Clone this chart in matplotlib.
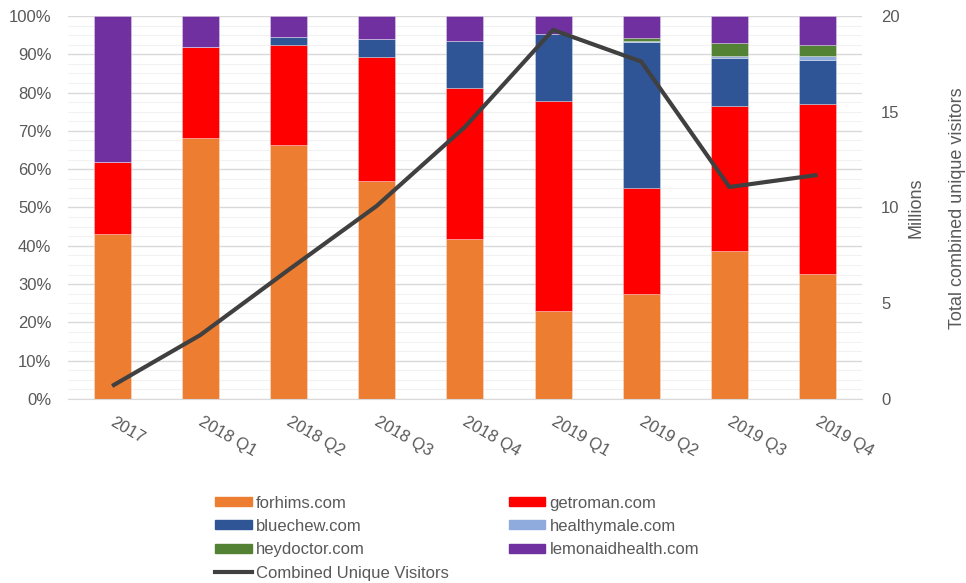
import matplotlib
matplotlib.use("Agg")
import matplotlib.pyplot as plt
import matplotlib.transforms as mtransforms
import numpy as np
from matplotlib.ticker import MultipleLocator, FuncFormatter
from matplotlib.patches import Patch
from matplotlib.lines import Line2D

plt.rcParams['font.family'] = ['Liberation Sans', 'DejaVu Sans']

categories = ["2017", "2018 Q1", "2018 Q2", "2018 Q3", "2018 Q4",
              "2019 Q1", "2019 Q2", "2019 Q3", "2019 Q4"]
forhims = [43.1, 68.1, 66.3, 56.9, 41.8, 23.0, 27.4, 38.6, 32.6]
getroman = [18.8, 23.8, 26.1, 32.4, 39.5, 54.8, 27.7, 38.0, 44.5]
bluechew = [0.0, 0.0, 2.1, 4.7, 12.2, 17.5, 38.1, 12.5, 11.4]
healthymale = [0.0, 0.0, 0.0, 0.0, 0.0, 0.0, 0.2, 0.5, 1.1]
heydoctor = [0.0, 0.0, 0.0, 0.0, 0.0, 0.0, 0.8, 3.4, 2.7]
lemonaid = [38.1, 8.1, 5.5, 6.0, 6.5, 4.7, 5.8, 7.0, 7.7]
visitors = [0.68, 3.34, 6.74, 10.08, 14.2, 19.27, 17.62, 11.07, 11.7]

series = [
    ("forhims.com", forhims, "#ED7D31"),
    ("getroman.com", getroman, "#FF0000"),
    ("bluechew.com", bluechew, "#2F5597"),
    ("healthymale.com", healthymale, "#8FAADC"),
    ("heydoctor.com", heydoctor, "#548235"),
    ("lemonaidhealth.com", lemonaid, "#7030A0"),
]

text_color = "#595959"
fs = 12
fig = plt.figure(figsize=(9.66, 5.83), dpi=100)
ax = fig.add_axes([0.0704, 0.3156, 0.8216, 0.657])
x = np.arange(len(categories))

bottom = np.zeros(len(categories))
for name, vals, col in series:
    v = np.array(vals)
    ax.bar(x, v, bottom=bottom, width=0.42, color=col, edgecolor=(1, 1, 1, 0.35),
           linewidth=0.6, zorder=2)
    bottom += v

ax.set_xlim(-0.5, len(categories) - 0.5)
ax.set_ylim(0, 100)
ax.yaxis.set_major_locator(MultipleLocator(10))
ax.yaxis.set_minor_locator(MultipleLocator(2.5))
ax.yaxis.set_major_formatter(FuncFormatter(lambda v, p: f"{int(round(v))}%"))
ax.grid(axis='y', which='major', color="#D9D9D9", linewidth=1.0, zorder=0)
ax.grid(axis='y', which='minor', color="#F2F2F2", linewidth=0.8, zorder=0)
ax.set_axisbelow(True)
for s in ax.spines.values():
    s.set_visible(False)
ax.spines['bottom'].set_visible(True)
ax.spines['bottom'].set_color("#D9D9D9")
ax.tick_params(axis='both', which='both', length=0, colors=text_color, labelsize=fs)
ax.tick_params(axis='y', pad=12)
ax.set_xticks(x)
ax.set_xticklabels(categories, rotation=-30, ha='left', va='top', rotation_mode='anchor')
ax.tick_params(axis='x', pad=11)
offset = mtransforms.ScaledTranslation(3 / 100, 0, fig.dpi_scale_trans)
for lbl in ax.get_xticklabels():
    lbl.set_color(text_color)
    lbl.set_transform(lbl.get_transform() + offset)

ax2 = ax.twinx()
ax2.plot(x, visitors, color="#404040", linewidth=3.0, zorder=5, solid_capstyle='butt')
ax2.set_ylim(0, 20)
ax2.yaxis.set_major_locator(MultipleLocator(5))
for s in ax2.spines.values():
    s.set_visible(False)
ax2.tick_params(axis='y', length=0, colors=text_color, labelsize=fs, pad=14)
fig.text(957 / 966, 1 - 208 / 583, "Total combined unique visitors", rotation=90,
         ha='center', va='center', color=text_color, fontsize=13)
fig.text(916 / 966, 1 - 208 / 583, "Millions", rotation=90, ha='center', va='center',
         color=text_color, fontsize=13)

handles = [
    Patch(color="#ED7D31"), Patch(color="#2F5597"), Patch(color="#548235"),
    Line2D([0], [0], color="#404040", linewidth=3.0),
    Patch(color="#FF0000"), Patch(color="#8FAADC"), Patch(color="#7030A0"),
]
labels = ["forhims.com", "bluechew.com", "heydoctor.com", "Combined Unique Visitors",
          "getroman.com", "healthymale.com", "lemonaidhealth.com"]
leg = fig.legend(handles, labels, ncol=2, loc='upper left', bbox_to_anchor=(0.2225, 0.150),
                 frameon=False, fontsize=fs, handlelength=2.2, handleheight=0.45,
                 handletextpad=0.25, labelspacing=0.5, columnspacing=3.6,
                 borderaxespad=0, borderpad=0)
for t in leg.get_texts():
    t.set_color(text_color)

fig.savefig("out.png", dpi=100)
